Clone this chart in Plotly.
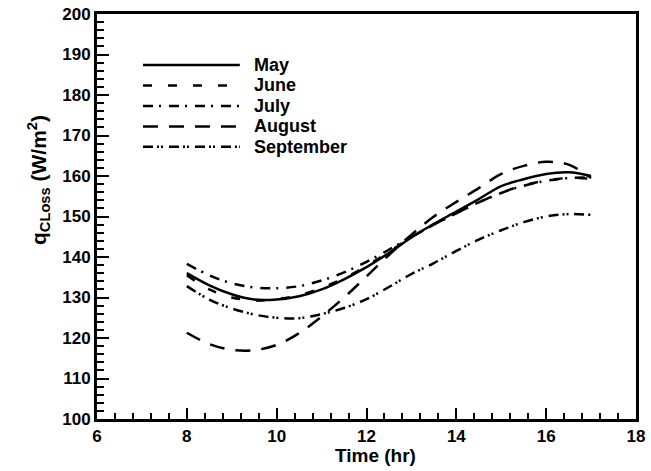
import plotly.graph_objects as go

hours = [8, 8.5, 9, 9.5, 10, 10.5, 11, 11.5, 12, 12.5, 13, 13.5, 14, 14.5, 15, 15.5, 16, 16.5, 17]

may = [136.0, 133.0, 130.8, 129.5, 129.5, 130.3, 132.0, 134.5, 137.5, 141.0, 144.8, 148.2, 151.2, 154.3, 157.5, 159.2, 160.5, 160.9, 160.0]
june = [135.5, 132.0, 130.0, 129.3, 129.6, 130.6, 132.4, 134.8, 137.8, 141.3, 144.9, 148.0, 150.8, 153.5, 155.9, 157.7, 158.9, 159.5, 159.3]
july = [138.3, 135.5, 133.5, 132.5, 132.3, 132.8, 134.2, 136.2, 138.8, 141.8, 145.0, 148.0, 150.8, 153.5, 155.8, 157.6, 158.8, 159.5, 159.6]
august = [121.3, 118.5, 117.1, 117.0, 118.3, 121.2, 125.3, 130.0, 135.2, 140.5, 145.5, 150.0, 153.6, 157.0, 160.5, 162.5, 163.5, 162.8, 159.5]
september = [132.8, 129.5, 127.3, 125.8, 125.0, 124.9, 125.9, 127.4, 129.6, 132.6, 135.8, 138.5, 141.5, 144.3, 146.6, 148.6, 150.0, 150.6, 150.4]

series_names = ["May", "June", "July", "August", "September"]
series_values = [may, june, july, august, september]
dash_styles = ["solid", "9px,16px", "10px,6px,2px,8px", "15px,11px", "10px,4px,2px,2px,2px,6px"]

x_ticks = [6, 8, 10, 12, 14, 16, 18]
y_ticks = [100, 110, 120, 130, 140, 150, 160, 170, 180, 190, 200]

FONT = "Liberation Sans, Arial, sans-serif"

fig = go.Figure()
for name, vals, dash in zip(series_names, series_values, dash_styles):
    fig.add_trace(go.Scatter(
        x=hours, y=vals, mode="lines", name=name,
        line=dict(color="black", width=2.5, dash=dash, shape="spline", smoothing=1.0),
        showlegend=False,
    ))

# manual legend (long line samples like the original)
x0_leg, x1_leg, xt_leg = 0.0853, 0.265, 0.288
y_top, y_step = 0.874, 0.0505
for i, (name, dash) in enumerate(zip(series_names, dash_styles)):
    yy = y_top - i * y_step
    fig.add_shape(type="line", xref="paper", yref="paper",
                  x0=x0_leg, x1=x1_leg, y0=yy, y1=yy,
                  line=dict(color="black", width=2.5, dash=dash))
    fig.add_annotation(xref="paper", yref="paper", x=xt_leg, y=yy,
                       text="<b>%s</b>" % name, showarrow=False,
                       xanchor="left", yanchor="middle",
                       font=dict(family=FONT, size=18, color="black"))

# axis titles
fig.add_annotation(xref="paper", yref="paper", x=0.516, y=-0.089,
                   text="<b>Time (hr)</b>", showarrow=False,
                   xanchor="center", yanchor="middle",
                   font=dict(family=FONT, size=19, color="black"))
fig.add_annotation(xref="paper", yref="paper", x=-0.1095, y=0.59,
                   text="<b>q<sub>CLoss</sub> (W/m<sup>2</sup>)</b>", showarrow=False,
                   textangle=-90, xanchor="center", yanchor="middle",
                   font=dict(family=FONT, size=21, color="black"))

fig.update_layout(
    width=651, height=471,
    margin=dict(l=97, r=15, t=14, b=52, autoexpand=False),
    paper_bgcolor="white", plot_bgcolor="white",
    font=dict(family=FONT, color="black"),
    showlegend=False,
)
fig.update_xaxes(
    range=[6, 18], tickmode="array", tickvals=x_ticks,
    ticktext=["<b>%d</b>" % v for v in x_ticks],
    showgrid=False, zeroline=False, automargin=False,
    showline=True, linewidth=3, linecolor="black", mirror=True,
    ticks="inside", ticklen=11, tickwidth=2, tickcolor="black",
    tickfont=dict(family=FONT, size=17, color="black"),
    minor=dict(dtick=0.4, tick0=6, ticks="inside", ticklen=6, tickwidth=1.5, tickcolor="black", showgrid=False),
)
fig.update_yaxes(
    range=[100, 200], tickmode="array", tickvals=y_ticks,
    ticktext=["<b>%d</b>" % v for v in y_ticks],
    showgrid=False, zeroline=False, automargin=False,
    showline=True, linewidth=3, linecolor="black", mirror=True,
    ticks="inside", ticklen=12, tickwidth=2, tickcolor="black",
    tickfont=dict(family=FONT, size=17, color="black"),
    minor=dict(dtick=2, tick0=100, ticks="inside", ticklen=7, tickwidth=1.5, tickcolor="black", showgrid=False),
)

fig.write_html("out.html")
